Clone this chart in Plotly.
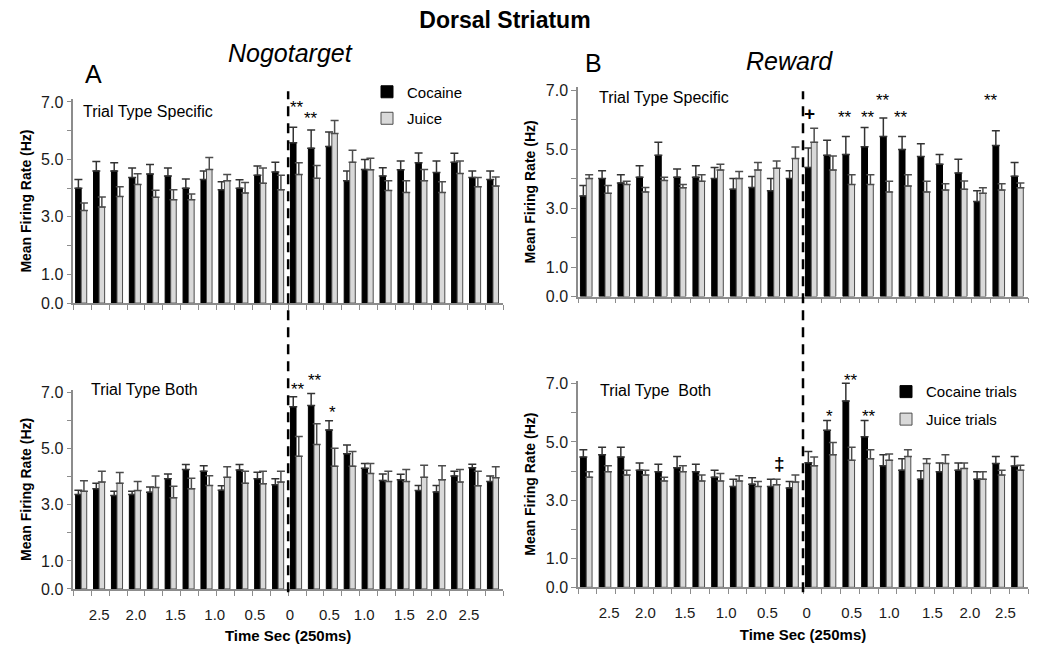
import plotly.graph_objects as go

# ---------------- data ----------------
bins = list(range(24))
time_labels = ["2.5", "2.0", "1.5", "1.0", "0.5", "0", "0.5", "1.0", "1.5", "2.0", "2.5"]
a_label_pos = [1.45, 3.5, 5.7, 7.9, 10.15, 12.1, 14.3, 16.25, 18.5, 20.3, 22.1]
b_label_pos = [1.66, 3.6, 5.7, 7.9, 10.1, 12.2, 14.6, 16.6, 18.9, 20.9, 22.8]

# Panel A (Nogotarget) - Trial Type Specific
a_spec_coc = [4.0, 4.6, 4.6, 4.37, 4.49, 4.42, 4.0, 4.3, 3.94, 4.0, 4.45, 4.56,
              5.58, 5.39, 5.45, 4.26, 4.65, 4.42, 4.64, 4.88, 4.54, 4.9, 4.37, 4.3]
a_spec_coc_sem = [0.30, 0.33, 0.28, 0.33, 0.33, 0.28, 0.32, 0.30, 0.28, 0.29, 0.32, 0.34,
                  0.54, 0.63, 0.50, 0.34, 0.35, 0.29, 0.30, 0.34, 0.40, 0.31, 0.23, 0.30]
a_spec_jui = [3.22, 3.34, 3.71, 4.13, 3.68, 3.6, 3.6, 4.65, 4.26, 3.83, 4.17, 3.94,
              4.47, 4.34, 5.9, 4.9, 4.64, 3.92, 3.85, 4.26, 3.85, 4.51, 4.05, 4.07]
a_spec_jui_sem = [0.26, 0.35, 0.34, 0.37, 0.25, 0.34, 0.20, 0.42, 0.21, 0.37, 0.53, 0.51,
                  0.41, 0.45, 0.45, 0.42, 0.40, 0.34, 0.41, 0.39, 0.37, 0.43, 0.32, 0.32]

# Panel A - Trial Type Both
a_both_coc = [3.37, 3.57, 3.33, 3.37, 3.45, 3.93, 4.26, 4.2, 3.52, 4.24, 3.93, 3.72,
              6.5, 6.54, 5.67, 4.82, 4.3, 3.87, 3.89, 3.51, 3.46, 4.03, 4.32, 3.83]
a_both_coc_sem = [0.15, 0.20, 0.15, 0.11, 0.19, 0.17, 0.18, 0.19, 0.16, 0.20, 0.23, 0.21,
                  0.35, 0.43, 0.33, 0.31, 0.17, 0.23, 0.20, 0.18, 0.23, 0.17, 0.13, 0.20]
a_both_jui = [3.48, 3.81, 3.77, 3.51, 3.62, 3.25, 3.57, 3.69, 3.98, 3.77, 3.75, 3.81,
              4.73, 5.15, 4.38, 4.38, 4.12, 3.83, 3.83, 3.98, 3.89, 3.81, 3.68, 3.97]
a_both_jui_sem = [0.38, 0.39, 0.38, 0.32, 0.41, 0.41, 0.38, 0.35, 0.38, 0.43, 0.45, 0.39,
                  0.71, 0.74, 0.64, 0.52, 0.35, 0.37, 0.43, 0.43, 0.50, 0.45, 0.52, 0.39]

# Panel B (Reward) - Trial Type Specific
b_spec_coc = [3.41, 4.0, 3.85, 4.05, 4.79, 4.05, 4.05, 4.0, 3.64, 3.7, 3.59, 4.0,
              4.38, 4.79, 4.82, 5.08, 5.43, 4.99, 4.75, 4.49, 4.19, 3.22, 5.12, 4.08]
b_spec_coc_sem = [0.36, 0.27, 0.28, 0.39, 0.44, 0.28, 0.39, 0.38, 0.36, 0.37, 0.41, 0.27,
                  0.66, 0.51, 0.61, 0.65, 0.63, 0.44, 0.43, 0.33, 0.47, 0.37, 0.50, 0.47]
b_spec_jui = [4.0, 3.5, 3.8, 3.55, 3.94, 3.69, 3.91, 4.29, 4.0, 4.29, 4.35, 4.68,
              5.23, 4.29, 3.8, 3.8, 3.55, 3.75, 3.55, 3.61, 3.64, 3.5, 3.61, 3.69]
b_spec_jui_sem = [0.13, 0.27, 0.11, 0.15, 0.11, 0.11, 0.22, 0.20, 0.24, 0.26, 0.25, 0.39,
                  0.48, 0.48, 0.33, 0.33, 0.36, 0.38, 0.36, 0.22, 0.28, 0.19, 0.22, 0.16]

# Panel B - Trial Type Both
b_both_coc = [4.48, 4.56, 4.48, 4.03, 3.98, 4.11, 3.98, 3.79, 3.47, 3.55, 3.47, 3.42,
              4.29, 5.4, 6.41, 5.18, 4.18, 4.03, 3.72, 3.98, 4.03, 3.72, 4.26, 4.17]
b_both_coc_sem = [0.25, 0.26, 0.34, 0.25, 0.25, 0.39, 0.25, 0.24, 0.25, 0.22, 0.25, 0.22,
                  0.38, 0.34, 0.61, 0.56, 0.38, 0.39, 0.29, 0.30, 0.25, 0.26, 0.24, 0.33]
b_both_jui = [3.79, 3.98, 3.86, 3.86, 3.66, 3.98, 3.66, 3.66, 3.66, 3.47, 3.53, 3.62,
              4.18, 4.56, 4.37, 4.42, 4.37, 4.5, 4.26, 4.26, 4.09, 3.72, 3.86, 4.03]
b_both_jui_sem = [0.19, 0.20, 0.17, 0.17, 0.13, 0.20, 0.20, 0.26, 0.18, 0.17, 0.19, 0.24,
                  0.30, 0.42, 0.45, 0.31, 0.22, 0.23, 0.16, 0.30, 0.19, 0.26, 0.17, 0.17]

# significance marks: (axis suffix, x bin position, y value, text)
sig_marks = [
    ("", 12.5, 6.8, "**"), ("", 13.3, 6.43, "**"),
    ("2", 12.55, 7.1, "**"), ("2", 13.5, 7.45, "**"), ("2", 14.45, 6.28, "*"),
    ("3", 12.37, 6.2, "<b>+</b>"), ("3", 14.24, 6.06, "**"), ("3", 15.45, 6.06, "**"),
    ("3", 16.28, 6.64, "**"), ("3", 17.25, 6.06, "**"), ("3", 22.05, 6.64, "**"),
    ("4", 13.4, 5.88, "*"), ("4", 14.56, 7.11, "**"), ("4", 15.5, 5.88, "**"),
    ("4", 10.77, 4.27, "<b>‡</b>"),
]

FONT = "Arial, Liberation Sans, sans-serif"
COC_COLOR = "#000000"
JUI_COLOR = "#d9d9d9"
AXIS_COLOR = "#8c8c8c"
Y_MAX = 7.1

# the page body has an 8px margin; lay out in page pixels and convert
PAD = 8
W, H = 1050 - 2 * PAD, 659 - 2 * PAD


def px_x(p):
    return (p - PAD) / W


def px_y(p):
    return 1 - (p - PAD) / H


fig = go.Figure()

panels = [
    ("x", "y", a_spec_coc, a_spec_coc_sem, a_spec_jui, a_spec_jui_sem, ("Cocaine", "Juice"), "legend", True),
    ("x2", "y2", a_both_coc, a_both_coc_sem, a_both_jui, a_both_jui_sem, ("Cocaine", "Juice"), "legend", False),
    ("x3", "y3", b_spec_coc, b_spec_coc_sem, b_spec_jui, b_spec_jui_sem, ("Cocaine", "Juice"), "legend", False),
    ("x4", "y4", b_both_coc, b_both_coc_sem, b_both_jui, b_both_jui_sem, ("Cocaine trials", "Juice trials"), "legend2", True),
]

for xa, ya, coc, coc_sem, jui, jui_sem, names, leg, show in panels:
    fig.add_trace(go.Bar(
        x=[b + 0.285 for b in bins], y=coc, width=0.31, xaxis=xa, yaxis=ya,
        name=names[0], legend=leg, showlegend=show, legendgroup=leg + "c",
        marker=dict(color=COC_COLOR, line=dict(color="#000000", width=1)),
        error_y=dict(type="data", array=coc_sem, arrayminus=[0] * len(coc_sem), symmetric=False,
                     color="#333333", thickness=1.5, width=4),
    ))
    fig.add_trace(go.Bar(
        x=[b + 0.595 for b in bins], y=jui, width=0.31, xaxis=xa, yaxis=ya,
        name=names[1], legend=leg, showlegend=show, legendgroup=leg + "j",
        marker=dict(color=JUI_COLOR, line=dict(color="#4d4d4d", width=1)),
        error_y=dict(type="data", array=jui_sem, arrayminus=[0] * len(jui_sem), symmetric=False,
                     color="#4d4d4d", thickness=1.5, width=4),
    ))

ytickvals = [0, 1, 2, 3, 4, 5, 6, 7]
yticktext = ["0.0", "1.0", "", "3.0", "", "5.0", "", "7.0"]


def yaxis_cfg(zero_px, seven_px, anchor, standoff):
    top_px = zero_px - (zero_px - seven_px) / 7 * Y_MAX
    return dict(
        domain=[px_y(zero_px), px_y(top_px)], anchor=anchor, range=[0, Y_MAX], tickmode="array",
        tickvals=ytickvals, ticktext=yticktext, ticks="outside", ticklen=5,
        tickcolor=AXIS_COLOR, showline=True, linecolor=AXIS_COLOR, linewidth=1.5,
        showgrid=False, zeroline=False, fixedrange=True,
        tickfont=dict(family=FONT, size=16, color="#1a1a1a"),
        title=dict(text="<b>Mean Firing Rate (Hz)</b>", standoff=standoff,
                   font=dict(family=FONT, size=14, color="#000000")),
    )


def xaxis_top(left_px, right_px, anchor):
    return dict(
        domain=[px_x(left_px), px_x(right_px)], anchor=anchor, range=[0, 24], tickmode="array",
        tickvals=list(range(25)), showticklabels=False, ticks="outside", ticklen=5,
        tickcolor=AXIS_COLOR, showline=True, linecolor=AXIS_COLOR, linewidth=1.5,
        showgrid=False, zeroline=False, fixedrange=True,
    )


def xaxis_bottom(left_px, right_px, anchor, label_pos):
    return dict(
        domain=[px_x(left_px), px_x(right_px)], anchor=anchor, range=[0, 24], tickmode="array",
        tickvals=label_pos, ticktext=time_labels, ticks="", ticklabelstandoff=11,
        minor=dict(tickmode="array", tickvals=list(range(25)), ticks="outside",
                   ticklen=5, tickcolor=AXIS_COLOR, showgrid=False),
        showline=True, linecolor=AXIS_COLOR, linewidth=1.5,
        showgrid=False, zeroline=False, fixedrange=True,
        tickfont=dict(family=FONT, size=15, color="#1a1a1a"),
        title=dict(text="<b>Time Sec (250ms)</b>", standoff=9,
                   font=dict(family=FONT, size=15, color="#000000")),
    )


fig.update_layout(
    width=W, height=H,
    margin=dict(l=0, r=0, t=0, b=0),
    paper_bgcolor="white", plot_bgcolor="white",
    barmode="overlay",
    font=dict(family=FONT, color="#000000"),
    title=dict(text="<b>Dorsal Striatum</b>", x=px_x(505), xanchor="center",
               y=px_y(20), yanchor="middle", yref="container",
               font=dict(family=FONT, size=23, color="#000000")),
    xaxis=xaxis_top(73.3, 503, "y"),
    yaxis=yaxis_cfg(304, 98, "x", 6),
    xaxis2=xaxis_bottom(73.3, 503, "y2", a_label_pos),
    yaxis2=yaxis_cfg(596.7, 395.7, "x2", 6),
    xaxis3=xaxis_top(578, 1028, "y3"),
    yaxis3=yaxis_cfg(297.3, 86, "x3", 7),
    xaxis4=xaxis_bottom(578, 1028, "y4", b_label_pos),
    yaxis4=yaxis_cfg(595, 386.7, "x4", 7),
    legend=dict(x=px_x(367), y=px_y(71), xanchor="left", yanchor="top",
                bgcolor="rgba(0,0,0,0)", tracegroupgap=4,
                font=dict(family=FONT, size=15, color="#000000"),
                itemwidth=30),
    legend2=dict(x=px_x(886), y=px_y(378), xanchor="left", yanchor="top",
                 bgcolor="rgba(0,0,0,0)", tracegroupgap=5,
                 font=dict(family=FONT, size=15, color="#000000"),
                 itemwidth=30),
)

# dashed line marking event onset (bin boundary 12), spanning both rows
for xref in ("x", "x3"):
    fig.add_shape(type="line", xref=xref, yref="paper", x0=12, x1=12,
                  y0=px_y(600), y1=px_y(87),
                  line=dict(color="#000000", width=2.5, dash="10px,7px"))

# significance annotations (domain-referenced so marks above the axis top stay visible)
for suffix, xp, yv, txt in sig_marks:
    fig.add_annotation(xref="x" + suffix, yref=("y" + suffix) + " domain", x=xp, y=yv / Y_MAX,
                       xanchor="center", yanchor="middle",
                       text=txt, showarrow=False,
                       font=dict(family=FONT, size=17 if "*" in txt else 19, color="#000000"))

# panel texts
panel_texts = [
    ("Trial Type Specific", 81, 108),
    ("Trial Type Both", 89, 392),
    ("Trial Type Specific", 597, 93),
    ("Trial Type  Both", 598, 393),
]
for txt, px, py in panel_texts:
    fig.add_annotation(xref="paper", yref="paper", x=px_x(px), y=px_y(py),
                       xanchor="left", yanchor="middle", text=txt.replace("  ", "&nbsp; "),
                       showarrow=False, font=dict(family=FONT, size=16, color="#000000"))

headers = [
    ("A", 93, 69, False), ("Nogotarget", 290, 48, True),
    ("B", 593, 58, False), ("Reward", 789, 56, True),
]
for txt, px, py, ital in headers:
    fig.add_annotation(xref="paper", yref="paper", x=px_x(px), y=px_y(py),
                       xanchor="center", yanchor="middle",
                       text=f"<i>{txt}</i>" if ital else txt,
                       showarrow=False, font=dict(family=FONT, size=25, color="#000000"))

fig.write_html("out.html")
